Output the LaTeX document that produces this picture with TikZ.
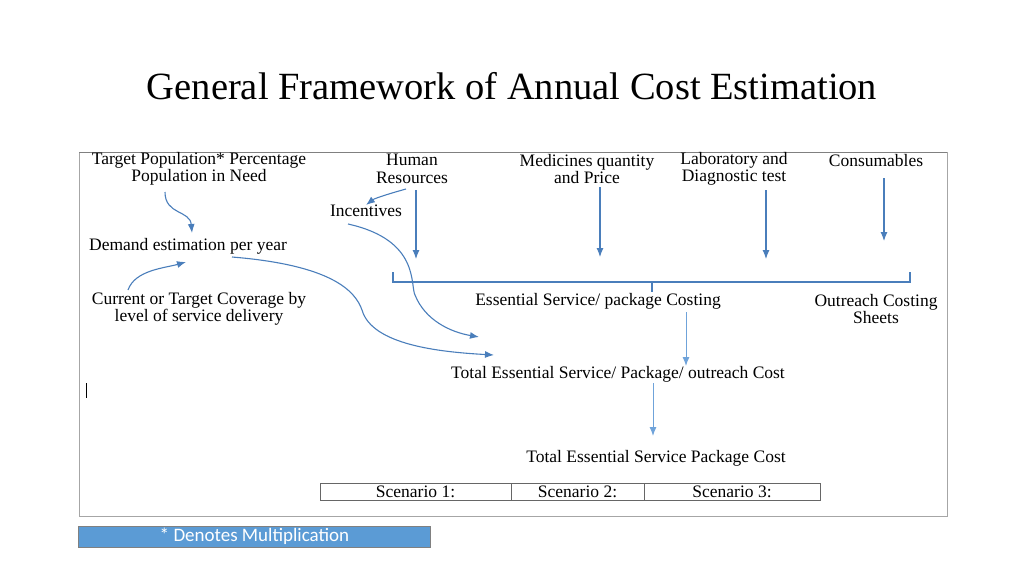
\documentclass[tikz,border=0pt]{standalone}
\usepackage{fontspec}
\usetikzlibrary{arrows.meta}
\setmainfont{Liberation Serif}
\newfontfamily\capfont{Carlito}
\definecolor{arrowblue}{HTML}{4A7EBB}
\definecolor{lightblue}{HTML}{6FA3DA}
\definecolor{capblue}{HTML}{5B9BD5}
\tikzset{
  txt/.style={align=center,font=\fontsize{17.5}{17.5}\selectfont,inner sep=1pt},
  flow/.style={draw=arrowblue,line width=1.1pt,-{Latex[length=9pt,width=7pt]}},
  thinflow/.style={draw=lightblue,line width=1pt,-{Latex[length=9pt,width=7pt]}},
}
\begin{document}
\begin{tikzpicture}[x=1pt,y=-1pt]
  \useasboundingbox (0,0) rectangle (1024,576);
  \node[font=\fontsize{38.5}{40}\selectfont] (title) at (512,86) {General Framework of Annual Cost Estimation};
  \draw[gray!70] (79,152) rectangle (947,516);
  \draw[gray] (79,152) -- (947,152);

  \node[txt] (tp) at (199,169) {Target Population* Percentage\\Population in Need};
  \node[txt] (hr) at (412,169) {Human\\Resources};
  \node[txt] (med) at (587,169) {Medicines quantity\\and Price};
  \node[txt] (lab) at (734,169) {Laboratory and\\Diagnostic test};
  \node[txt] (cons) at (876,161) {Consumables};
  \node[txt] (inc) at (366,211) {Incentives};
  \node[txt] (dem) at (188,246) {Demand estimation per year};
  \node[txt] (cov) at (199,309) {Current or Target Coverage by\\level of service delivery};
  \node[txt] (esc) at (598,301) {Essential Service/ package Costing};
  \node[txt] (out) at (876,309) {Outreach Costing\\Sheets};
  \node[txt] (tot) at (618,374) {Total Essential Service/ Package/ outreach Cost};
  \node[txt] (tesp) at (656,458) {Total Essential Service Package Cost};

  % brace collecting the inputs
  \coordinate (brc) at (652,292);
  \draw[arrowblue,line width=1.1pt] (393,272) -- (393,282) -- (910,282) -- (910,272)
    (652,282) -- (brc);

  % inputs
  \draw[flow] (165,192) .. controls (165,215) and (190,210) .. (192,233);
  \draw[flow] (406,189) .. controls (395,192) and (375,198) .. (366,205);
  \draw[flow] (416,190) -- (416,259);
  \draw[flow] (600,187) -- (600,257);
  \draw[flow] (766,190) -- (766,259);
  \draw[flow] (884,178) -- (884,241);
  \draw[flow] (128,290) .. controls (135,270) and (165,268) .. (186,262);
  \draw[flow] (232,257) .. controls (330,265) and (355,290) .. (362,310)
    .. controls (372,345) and (440,352) .. (494,355);
  \draw[flow] (348,224) .. controls (420,240) and (410,285) .. (415,295)
    .. controls (425,320) and (450,332) .. (479,337);
  \draw[thinflow] (686,312) -- (686,366);
  \draw[thinflow] (653,383) -- (653,436);

  \draw (86,383) -- (86,398);

  % scenario table
  \draw[gray!80!black] (320,483) rectangle (820,500) (511,483) -- (511,500) (644,483) -- (644,500);
  \node[txt] (s1) at (415.5,491.5) {Scenario 1:};
  \node[txt] (s2) at (577.5,491.5) {Scenario 2:};
  \node[txt] (s3) at (732,491.5) {Scenario 3:};

  \node[draw=gray,fill=capblue,text=white,minimum width=352pt,minimum height=21pt,
    font=\capfont\fontsize{19}{19}\selectfont,inner sep=0pt] (cap) at (254.5,536.5) {* Denotes Multiplication};
\end{tikzpicture}
\end{document}
